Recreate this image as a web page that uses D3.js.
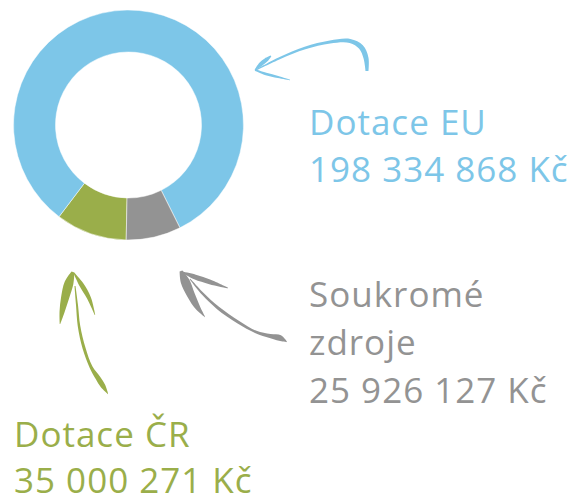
<!DOCTYPE html>
<html>
<head>
<meta charset="utf-8">
<script src="https://cdn.jsdelivr.net/npm/d3@7"></script>
<style>
  html, body { margin: 0; padding: 0; background: #fff; }
  svg { display: block; }
  text { font-family: "Open Sans", sans-serif; font-weight: 400; letter-spacing: 1px; }
</style>
</head>
<body>
<svg id="chart"></svg>
<script>
// funding sources, in the order they run clockwise from the bottom of the ring
const categories = ["Dotace ČR", "Dotace EU", "Soukromé zdroje"];
const amounts = [35000271, 198334868, 25926127];
// share of the ring each slice takes in the picture (percent)
const ringShares = [10.0, 82.3, 7.7];
const colors = ["#9aae4a", "#7dc6e8", "#939393"];

const width = 575, height = 500;
const cx = 128.5, cy = 125, outerR = 115, innerR = 73;

const svg = d3.select("#chart").attr("width", width).attr("height", height);

const pie = d3.pie().sort(null).value(d => d)
  .startAngle(Math.PI + 0.02)
  .endAngle(3 * Math.PI + 0.02);
const arc = d3.arc().innerRadius(innerR).outerRadius(outerR);

svg.append("g")
  .attr("transform", "translate(" + cx + "," + cy + ")")
  .selectAll("path")
  .data(pie(ringShares))
  .enter()
  .append("path")
  .attr("d", arc)
  .attr("fill", (d, i) => colors[i])
  .attr("stroke", "#fff")
  .attr("stroke-width", 0.5);

// labels
const fmt = v => d3.format(",")(v).replace(/,/g, " ") + " Kč";
const labelPos = [
  { x: 14, y: 446.5, lines: ["Dotace ČR"] },
  { x: 309, y: 135, lines: ["Dotace EU"] },
  { x: 309, y: 307, lines: ["Soukromé", "zdroje"] }
];
const lineH = [46.5, 46.5, 48];

categories.forEach((c, i) => {
  const p = labelPos[i];
  const lines = p.lines.concat([fmt(amounts[i])]);
  const t = svg.append("text")
    .attr("x", p.x)
    .attr("y", p.y)
    .attr("fill", colors[i])
    .attr("font-size", "35px");
  lines.forEach((l, j) => {
    t.append("tspan").attr("x", p.x).attr("y", p.y + j * lineH[i]).text(l);
  });
});

// brush-stroke arrows: each stroke is a centre line of [x, y, width]
function brush(pts) {
  const left = [], right = [];
  pts.forEach((p, i) => {
    const a = pts[Math.max(0, i - 1)], b = pts[Math.min(pts.length - 1, i + 1)];
    let dx = b[0] - a[0], dy = b[1] - a[1];
    const len = Math.hypot(dx, dy) || 1;
    const nx = -dy / len, ny = dx / len, h = p[2] / 2;
    left.push([p[0] + nx * h, p[1] + ny * h]);
    right.push([p[0] - nx * h, p[1] - ny * h]);
  });
  const line = d3.line().curve(d3.curveCatmullRom);
  return line(left) + "L" + line(right.reverse()).slice(1) + "Z";
}

const arrows = [
  { color: colors[1], strokes: [
    [[367, 71, 3], [366, 58, 5], [361, 47, 5], [350, 41, 4], [330, 42, 3], [305, 48, 2.5], [280, 58, 2], [256, 70, 1]],
    [[255, 70, 1], [261, 64, 4], [266, 60, 4], [271, 56, 1]],
    [[255, 70, 1.5], [266, 74, 2.5], [278, 77, 2], [290, 80, 0.5]]
  ]},
  { color: colors[2], strokes: [
    [[181, 271, 3], [185, 281, 9], [191, 295, 8], [198, 308, 5], [205, 317, 0.5]],
    [[182, 272, 1], [195, 277, 5], [210, 282, 4.5], [228, 288, 0.5]],
    [[190, 279, 1], [203, 294, 2.5], [218, 308, 3], [238, 322, 3], [256, 332, 2.5], [270, 336, 4], [280, 338, 6], [287, 342, 0.5]]
  ]},
  { color: colors[0], strokes: [
    [[73, 272, 3], [69, 283, 9], [65, 298, 8], [62, 312, 5], [60, 324, 0.5]],
    [[74, 273, 1], [81, 284, 4.5], [89, 298, 4], [95, 315, 0.5]],
    [[75, 286, 1], [77, 305, 2], [79, 326, 2.5], [84, 348, 3], [91, 367, 3], [98, 378, 5], [103, 386, 5], [108, 394, 0.5]]
  ]}
];

arrows.forEach(a => {
  svg.append("g").selectAll("path")
    .data(a.strokes)
    .enter()
    .append("path")
    .attr("d", brush)
    .attr("fill", a.color);
});
</script>
</body>
</html>
